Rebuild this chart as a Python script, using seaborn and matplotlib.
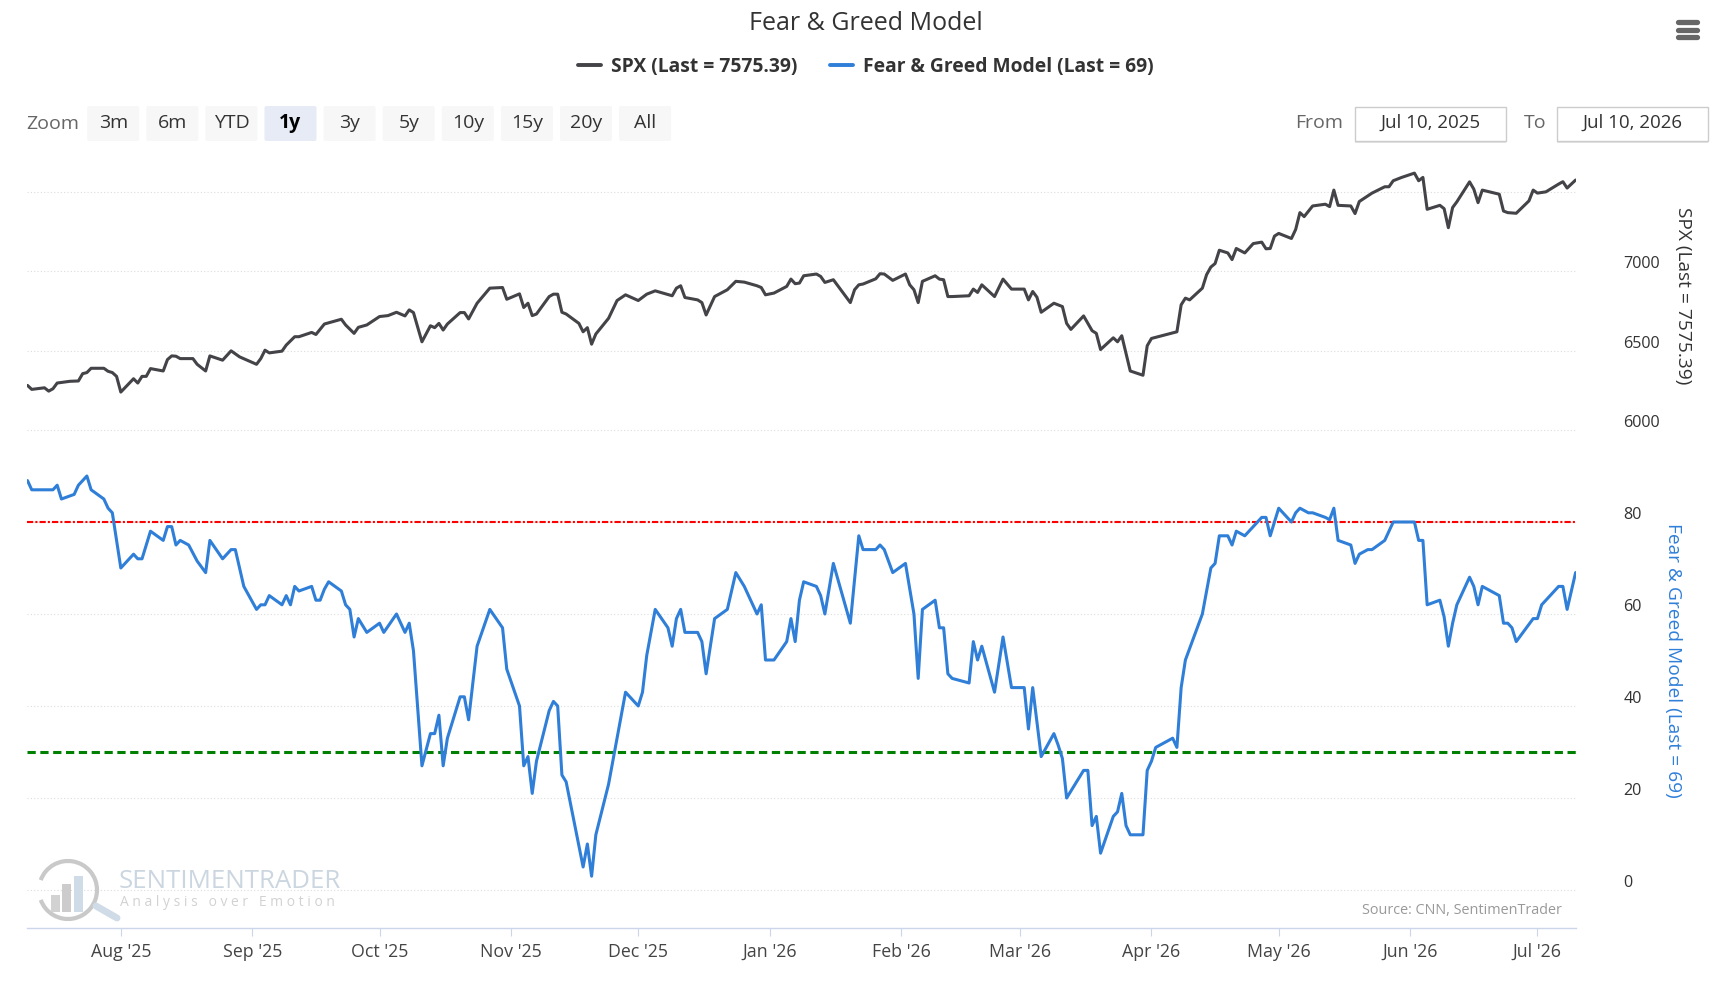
import pandas as pd
import matplotlib
matplotlib.use("Agg")
import matplotlib.pyplot as plt
import matplotlib.dates as mdates
from matplotlib.transforms import ScaledTranslation
from matplotlib.patches import FancyBboxPatch, Rectangle, Arc
from matplotlib.lines import Line2D
import seaborn as sns

# ---- data ----
spx_dates = [
    "2025-07-10", "2025-07-11", "2025-07-14", "2025-07-15", "2025-07-16", "2025-07-17", "2025-07-20",
    "2025-07-22", "2025-07-23", "2025-07-24", "2025-07-25", "2025-07-28", "2025-07-29", "2025-07-30",
    "2025-07-31", "2025-08-01", "2025-08-04", "2025-08-05", "2025-08-06", "2025-08-07", "2025-08-08",
    "2025-08-11", "2025-08-12", "2025-08-13", "2025-08-14", "2025-08-15", "2025-08-18", "2025-08-19",
    "2025-08-21", "2025-08-22", "2025-08-25", "2025-08-27", "2025-08-29", "2025-09-02", "2025-09-03",
    "2025-09-04", "2025-09-05", "2025-09-08", "2025-09-09", "2025-09-11", "2025-09-12", "2025-09-15",
    "2025-09-16", "2025-09-18", "2025-09-22", "2025-09-23", "2025-09-25", "2025-09-26", "2025-09-28",
    "2025-10-01", "2025-10-03", "2025-10-05", "2025-10-07", "2025-10-08", "2025-10-09", "2025-10-11",
    "2025-10-13", "2025-10-14", "2025-10-15", "2025-10-16", "2025-10-17", "2025-10-20", "2025-10-21",
    "2025-10-22", "2025-10-24", "2025-10-27", "2025-10-30", "2025-10-31", "2025-11-03", "2025-11-04",
    "2025-11-05", "2025-11-06", "2025-11-07", "2025-11-10", "2025-11-11", "2025-11-12", "2025-11-13",
    "2025-11-14", "2025-11-17", "2025-11-18", "2025-11-19", "2025-11-20", "2025-11-21", "2025-11-24",
    "2025-11-26", "2025-11-28", "2025-12-01", "2025-12-03", "2025-12-05", "2025-12-09", "2025-12-10",
    "2025-12-11", "2025-12-12", "2025-12-15", "2025-12-16", "2025-12-17", "2025-12-19", "2025-12-22",
    "2025-12-24", "2025-12-26", "2025-12-29", "2025-12-30", "2025-12-31", "2026-01-02", "2026-01-05",
    "2026-01-06", "2026-01-07", "2026-01-08", "2026-01-09", "2026-01-12", "2026-01-13", "2026-01-14",
    "2026-01-16", "2026-01-20", "2026-01-21", "2026-01-22", "2026-01-23", "2026-01-26", "2026-01-27",
    "2026-01-28", "2026-01-30", "2026-02-02", "2026-02-03", "2026-02-04", "2026-02-05", "2026-02-06",
    "2026-02-09", "2026-02-10", "2026-02-11", "2026-02-12", "2026-02-13", "2026-02-17", "2026-02-18",
    "2026-02-19", "2026-02-20", "2026-02-23", "2026-02-25", "2026-02-27", "2026-03-02", "2026-03-03",
    "2026-03-04", "2026-03-05", "2026-03-06", "2026-03-09", "2026-03-11", "2026-03-12", "2026-03-13",
    "2026-03-16", "2026-03-18", "2026-03-19", "2026-03-20", "2026-03-23", "2026-03-24", "2026-03-25",
    "2026-03-27", "2026-03-30", "2026-03-31", "2026-04-01", "2026-04-07", "2026-04-08", "2026-04-09",
    "2026-04-10", "2026-04-13", "2026-04-14", "2026-04-15", "2026-04-16", "2026-04-17", "2026-04-19",
    "2026-04-20", "2026-04-21", "2026-04-23", "2026-04-25", "2026-04-27", "2026-04-28", "2026-04-29",
    "2026-04-30", "2026-05-01", "2026-05-04", "2026-05-05", "2026-05-06", "2026-05-07", "2026-05-09",
    "2026-05-12", "2026-05-13", "2026-05-14", "2026-05-15", "2026-05-18", "2026-05-19", "2026-05-20",
    "2026-05-23", "2026-05-26", "2026-05-27", "2026-05-28", "2026-05-30", "2026-06-02", "2026-06-03",
    "2026-06-04", "2026-06-05", "2026-06-08", "2026-06-09", "2026-06-10", "2026-06-11", "2026-06-12",
    "2026-06-15", "2026-06-16", "2026-06-17", "2026-06-18", "2026-06-22", "2026-06-23", "2026-06-24",
    "2026-06-26", "2026-06-29", "2026-06-30", "2026-07-01", "2026-07-03", "2026-07-06", "2026-07-07",
    "2026-07-08", "2026-07-10",
]
spx_values = [
    6281, 6256, 6266, 6245, 6260, 6296, 6307,
    6309, 6355, 6362, 6389, 6389, 6370, 6362,
    6338, 6239, 6323, 6296, 6338, 6338, 6387,
    6372, 6444, 6467, 6465, 6450, 6450, 6414,
    6372, 6467, 6440, 6499, 6461, 6414, 6450,
    6503, 6486, 6497, 6535, 6588, 6588, 6615,
    6602, 6668, 6698, 6662, 6609, 6647, 6662,
    6715, 6721, 6742, 6719, 6757, 6740, 6556,
    6657, 6645, 6672, 6630, 6668, 6740, 6740,
    6700, 6799, 6894, 6898, 6824, 6858, 6772,
    6799, 6721, 6731, 6841, 6856, 6856, 6742,
    6731, 6672, 6619, 6645, 6541, 6605, 6704,
    6816, 6852, 6816, 6856, 6877, 6846, 6894,
    6909, 6835, 6820, 6803, 6725, 6841, 6884,
    6937, 6932, 6909, 6898, 6852, 6863, 6905,
    6951, 6922, 6926, 6972, 6983, 6968, 6930,
    6947, 6803, 6884, 6915, 6920, 6953, 6985,
    6983, 6943, 6983, 6915, 6884, 6803, 6937,
    6972, 6951, 6947, 6841, 6841, 6846, 6888,
    6867, 6915, 6841, 6951, 6888, 6888, 6820,
    6873, 6837, 6742, 6799, 6778, 6672, 6634,
    6719, 6626, 6609, 6507, 6581, 6556, 6594,
    6372, 6345, 6531, 6577, 6619, 6789, 6831,
    6820, 6894, 6979, 7027, 7049, 7133, 7116,
    7074, 7144, 7116, 7175, 7184, 7142, 7144,
    7222, 7239, 7207, 7264, 7370, 7345, 7412,
    7423, 7408, 7512, 7416, 7412, 7364, 7440,
    7493, 7533, 7533, 7571, 7592, 7619, 7571,
    7592, 7391, 7416, 7395, 7275, 7402, 7438,
    7564, 7518, 7433, 7512, 7486, 7380, 7370,
    7366, 7444, 7512, 7493, 7501, 7550, 7565,
    7525, 7575.39,
]

fg_dates = [
    "2025-07-10", "2025-07-11", "2025-07-16", "2025-07-17", "2025-07-18", "2025-07-21", "2025-07-22",
    "2025-07-24", "2025-07-25", "2025-07-28", "2025-07-29", "2025-07-30", "2025-08-01", "2025-08-04",
    "2025-08-05", "2025-08-06", "2025-08-08", "2025-08-11", "2025-08-12", "2025-08-13", "2025-08-14",
    "2025-08-15", "2025-08-17", "2025-08-19", "2025-08-21", "2025-08-22", "2025-08-25", "2025-08-27",
    "2025-08-28", "2025-08-29", "2025-08-30", "2025-09-02", "2025-09-03", "2025-09-04", "2025-09-05",
    "2025-09-08", "2025-09-09", "2025-09-10", "2025-09-11", "2025-09-12", "2025-09-15", "2025-09-16",
    "2025-09-17", "2025-09-18", "2025-09-19", "2025-09-22", "2025-09-23", "2025-09-24", "2025-09-25",
    "2025-09-26", "2025-09-28", "2025-10-01", "2025-10-02", "2025-10-05", "2025-10-07", "2025-10-08",
    "2025-10-09", "2025-10-11", "2025-10-13", "2025-10-14", "2025-10-15", "2025-10-16", "2025-10-17",
    "2025-10-20", "2025-10-21", "2025-10-22", "2025-10-24", "2025-10-27", "2025-10-30", "2025-10-31",
    "2025-11-03", "2025-11-04", "2025-11-05", "2025-11-06", "2025-11-07", "2025-11-10", "2025-11-11",
    "2025-11-12", "2025-11-13", "2025-11-14", "2025-11-18", "2025-11-19", "2025-11-20", "2025-11-21",
    "2025-11-24", "2025-11-28", "2025-12-01", "2025-12-02", "2025-12-03", "2025-12-05", "2025-12-08",
    "2025-12-09", "2025-12-10", "2025-12-11", "2025-12-12", "2025-12-15", "2025-12-16", "2025-12-17",
    "2025-12-19", "2025-12-22", "2025-12-24", "2025-12-26", "2025-12-29", "2025-12-30", "2025-12-31",
    "2026-01-02", "2026-01-05", "2026-01-06", "2026-01-07", "2026-01-08", "2026-01-09", "2026-01-12",
    "2026-01-13", "2026-01-14", "2026-01-16", "2026-01-20", "2026-01-22", "2026-01-23", "2026-01-26",
    "2026-01-27", "2026-01-28", "2026-01-30", "2026-02-02", "2026-02-04", "2026-02-05", "2026-02-06",
    "2026-02-09", "2026-02-10", "2026-02-11", "2026-02-12", "2026-02-13", "2026-02-17", "2026-02-18",
    "2026-02-19", "2026-02-20", "2026-02-23", "2026-02-25", "2026-02-27", "2026-03-02", "2026-03-03",
    "2026-03-04", "2026-03-06", "2026-03-09", "2026-03-10", "2026-03-11", "2026-03-12", "2026-03-16",
    "2026-03-17", "2026-03-18", "2026-03-19", "2026-03-20", "2026-03-23", "2026-03-24", "2026-03-25",
    "2026-03-26", "2026-03-27", "2026-03-30", "2026-03-31", "2026-04-01", "2026-04-02", "2026-04-06",
    "2026-04-07", "2026-04-08", "2026-04-09", "2026-04-11", "2026-04-13", "2026-04-14", "2026-04-15",
    "2026-04-16", "2026-04-17", "2026-04-19", "2026-04-20", "2026-04-21", "2026-04-23", "2026-04-27",
    "2026-04-28", "2026-04-29", "2026-05-01", "2026-05-04", "2026-05-05", "2026-05-06", "2026-05-08",
    "2026-05-09", "2026-05-12", "2026-05-13", "2026-05-14", "2026-05-15", "2026-05-18", "2026-05-19",
    "2026-05-20", "2026-05-22", "2026-05-23", "2026-05-26", "2026-05-28", "2026-06-02", "2026-06-03",
    "2026-06-04", "2026-06-05", "2026-06-08", "2026-06-09", "2026-06-10", "2026-06-11", "2026-06-12",
    "2026-06-15", "2026-06-16", "2026-06-17", "2026-06-18", "2026-06-22", "2026-06-23", "2026-06-24",
    "2026-06-25", "2026-06-26", "2026-06-30", "2026-07-01", "2026-07-02", "2026-07-06", "2026-07-07",
    "2026-07-08", "2026-07-10",
]
fg_values = [
    89, 87, 87, 88, 85, 86, 88,
    90, 87, 85, 83, 82, 70, 73,
    72, 72, 78, 76, 79, 79, 75,
    76, 75, 71.5, 69, 76, 72, 74,
    74, 70, 66, 61, 62, 62, 64,
    62, 64, 62, 66, 65, 66, 63,
    63, 65.4, 67, 65, 62, 61, 55,
    59, 56, 58, 56, 60, 56, 58,
    52, 27, 34, 34, 38, 27, 33,
    42, 42, 37, 53, 61, 57, 48,
    40, 27, 29, 21, 28, 39, 41,
    40, 25, 23.5, 5, 10, 3, 12,
    23, 43, 40, 43, 51, 61, 57,
    53, 59, 61, 56, 56, 54, 47,
    59, 61, 69, 66, 60, 62, 50,
    50, 54, 59, 54, 63, 67, 66,
    64, 60, 71, 58, 77, 74, 74,
    75, 74, 69, 71, 60, 46, 61,
    63, 57, 57, 47, 46, 45, 54,
    50, 53, 43, 55, 44, 44, 35,
    44, 29, 34, 31.5, 28.6, 20, 26,
    26, 14, 16, 8, 16, 17, 21,
    14, 12, 12, 26, 28, 31, 33,
    31, 44, 50, 55, 60, 65, 70,
    71, 77, 77, 75, 78, 77, 81,
    81, 77, 83, 80, 82, 83, 82,
    82, 81, 80.5, 83, 76, 75, 71,
    73, 74, 74, 76, 80, 80, 76,
    76, 62, 63, 59.4, 53, 58, 62,
    68, 66, 62, 66, 64, 58, 58,
    57, 54, 59, 59, 62, 66, 66,
    61, 69,
]

greed_level = 80
fear_level = 30
spx_ticks = [6000, 6500, 7000, 7500]
spx_tick_labels = ["6000", "6500", "7000", ""]
fg_ticks = [0, 20, 40, 60, 80, 100]
fg_tick_labels = ["0", "20", "40", "60", "80", ""]
zoom_buttons = ["3m", "6m", "YTD", "1y", "3y", "5y", "10y", "15y", "20y", "All"]
selected_button = "1y"
date_from = "Jul 10, 2025"
date_to = "Jul 10, 2026"

spx_label = "SPX (Last = 7575.39)"
fg_label = "Fear & Greed Model (Last = 69)"

spx_df = pd.DataFrame({"date": pd.to_datetime(spx_dates), "value": spx_values})
fg_df = pd.DataFrame({"date": pd.to_datetime(fg_dates), "value": fg_values})

# ---- styling ----
sns.set_theme(style="white")
plt.rcParams["font.family"] = ["Open Sans", "DejaVu Sans"]

SPX_COLOR = "#434348"
FG_COLOR = "#2f7ed8"
GRID = "#dcdcdc"
W, H = 1724, 986

fig = plt.figure(figsize=(W / 100, H / 100), dpi=100)
fig.patch.set_facecolor("white")

x0, x1 = 27.5, 1575.6
top_y0, split_y, bot_y1 = 165, 430, 928


def box(top, bottom):
    return [x0 / W, 1 - bottom / H, (x1 - x0) / W, (bottom - top) / H]


ax_top = fig.add_axes(box(top_y0, split_y))
ax_bot = fig.add_axes(box(split_y, bot_y1), sharex=ax_top)

sns.lineplot(data=spx_df, x="date", y="value", ax=ax_top, color=SPX_COLOR,
             linewidth=2.2, label=spx_label, legend=False)
sns.lineplot(data=fg_df, x="date", y="value", ax=ax_bot, color=FG_COLOR,
             linewidth=2.2, label=fg_label, legend=False, zorder=5)

ax_top.set_ylim(6000, 6000 + (split_y - top_y0) / (238 / 1500))
ax_bot.set_ylim(-(bot_y1 - 890) / 4.6, 100)
ax_top.set_xlim(pd.Timestamp("2025-07-10"), pd.Timestamp("2026-07-10"))

for ax, ticks, labels in [(ax_top, spx_ticks, spx_tick_labels), (ax_bot, fg_ticks, fg_tick_labels)]:
    ax.set_facecolor("none")
    for s in ax.spines.values():
        s.set_visible(False)
    ax.set_xlabel("")
    ax.set_ylabel("")
    ax.yaxis.tick_right()
    ax.set_yticks(ticks)
    ax.set_yticklabels(labels)
    ax.tick_params(axis="y", length=0, pad=34.5, labelsize=11.6, labelcolor="#333333")
    for lab in ax.get_yticklabels():
        lab.set_horizontalalignment("left")
        lab.set_transform(lab.get_transform() + ScaledTranslation(0, 9 / 100, fig.dpi_scale_trans))
    for t in ticks:
        ax.axhline(t, color=GRID, linewidth=0.8, linestyle=(0, (1, 2)), zorder=0)

ax_bot.axhline(greed_level, color="#ff0000", linewidth=1.5, linestyle=(0, (3, 1, 1, 1)), zorder=3)
ax_bot.axhline(fear_level, color="#008000", linewidth=2.2, linestyle=(0, (2.7, 1.5)), zorder=3)

ax_top.tick_params(axis="x", bottom=False, labelbottom=False)
ax_bot.spines["bottom"].set_visible(True)
ax_bot.spines["bottom"].set_color("#ccd6eb")
ax_bot.spines["bottom"].set_linewidth(1)
ax_bot.xaxis.set_major_locator(mdates.MonthLocator())
ax_bot.xaxis.set_major_formatter(mdates.DateFormatter("%b '%y"))
ax_bot.tick_params(axis="x", bottom=True, length=5.5, width=0.8, color="#ccd6eb",
                   pad=5, labelsize=12.8, labelcolor="#444444")

# ---- overlay in pixel coordinates for chrome ----
ov = fig.add_axes([0, 0, 1, 1], zorder=10)
ov.set_xlim(0, W)
ov.set_ylim(H, 0)
ov.axis("off")

ov.text(866, 24, "Fear & Greed Model", ha="center", va="center", fontsize=18, color="#333333")

handles = [Line2D([], [], color=SPX_COLOR, linewidth=2.8), Line2D([], [], color=FG_COLOR, linewidth=2.8)]
fig.legend(handles, [spx_label, fg_label], loc="center", bbox_to_anchor=(866 / W, 1 - 67 / H),
           ncol=2, frameon=False, handlelength=1.2, handletextpad=0.5, columnspacing=1.7,
           prop={"weight": "bold", "size": 13.9}, labelcolor="#333333")

# hamburger menu
for yy in (22, 29.7, 37.4):
    ov.add_line(Line2D([1678, 1697], [yy, yy], color="#666666", linewidth=3.8, solid_capstyle="round"))

# range selector
ov.text(26.5, 124, "Zoom", ha="left", va="center", fontsize=14, color="#666666")
for i, name in enumerate(zoom_buttons):
    cx = 113.2 + i * 59.1
    sel = name == selected_button
    ov.add_patch(FancyBboxPatch((cx - 26, 106), 52, 35, boxstyle="round,pad=0,rounding_size=2",
                                facecolor="#e6ebf5" if sel else "#f7f7f7", edgecolor="none"))
    ov.text(cx, 123, name, ha="center", va="center", fontsize=14,
            color="#000000" if sel else "#333333", fontweight="bold" if sel else "normal")

ov.text(1319, 123, "From", ha="center", va="center", fontsize=14, color="#666666")
ov.text(1535, 123, "To", ha="center", va="center", fontsize=14, color="#666666")
for bx, txt in [(1355, date_from), (1557, date_to)]:
    ov.add_patch(Rectangle((bx, 141), 151, 2, facecolor="#e4e4e4", edgecolor="none"))
    ov.add_patch(Rectangle((bx, 107), 151, 34, facecolor="white", edgecolor="#cccccc", linewidth=1))
    ov.text(bx + 75.5, 123, txt, ha="center", va="center", fontsize=13.5, color="#333333")

# axis titles
ov.text(1683, 296, spx_label, rotation=270, ha="center", va="center", fontsize=13.8, color="#333333")
ov.text(1673.5, 660, fg_label, rotation=270, ha="center", va="center", fontsize=13.8, color=FG_COLOR)

# watermark
ov.add_patch(Arc((68, 890), 58, 58, theta1=200, theta2=520, color="#c9c9c9", linewidth=3))
for bx, bt, col in [(51, 895, "#d2d2d2"), (62, 884, "#cccccc"), (74, 876, "#cfdbe6")]:
    ov.add_patch(Rectangle((bx, bt), 9, 912 - bt, facecolor=col, edgecolor="none"))
ov.add_line(Line2D([96, 117], [906, 918], color="#cfdbe6", linewidth=5, solid_capstyle="round"))
ov.text(119, 882, "SENTIMENTRADER", ha="left", va="center", fontsize=18.6, color="#cbd6e0")
ov.text(120, 902, "A n a l y s i s   o v e r   E m o t i o n", ha="left", va="center",
        fontsize=10, color="#d2d2d2")

ov.text(1562, 911, "Source: CNN, SentimenTrader", ha="right", va="center", fontsize=10.4, color="#999999")

fig.savefig("out.png", dpi=100, facecolor="white")
